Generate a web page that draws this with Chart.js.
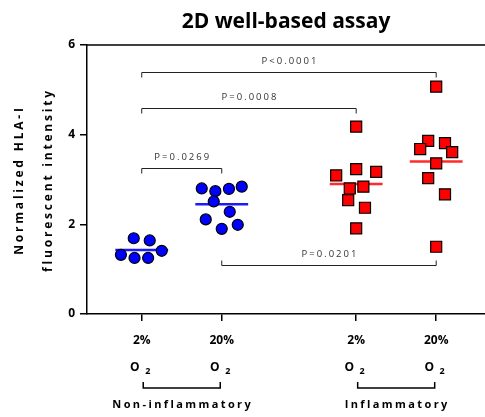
<!DOCTYPE html>
<html>
<head>
<meta charset="utf-8">
<script src="https://cdn.jsdelivr.net/npm/chart.js@4.4.1/dist/chart.umd.min.js"></script>
<style>
  html, body { margin: 0; padding: 0; background: #fff; }
  canvas { display: block; }
</style>
</head>
<body>
<canvas id="chart" width="485" height="417"></canvas>
<script>
// x positions of the four groups and their labels
const categoryPos = [1, 2, 3.68, 4.68];
const tickLabels = ['2%', '20%', '2%', '20%'];
const groupNames = ['Non-inflammatory', 'Inflammatory'];

// Non-inflammatory 2% O2
const nonInf2X = [0.9, 1.1, 0.74, 0.91, 1.08, 1.25];
const nonInf2Y = [1.69, 1.64, 1.32, 1.25, 1.25, 1.41];
// Non-inflammatory 20% O2
const nonInf20X = [1.75, 1.92, 2.09, 2.25, 1.9, 2.1, 1.8, 2.2, 2.0];
const nonInf20Y = [2.80, 2.74, 2.79, 2.84, 2.51, 2.28, 2.11, 1.99, 1.90];
// Inflammatory 2% O2
const inf2X = [3.68, 3.68, 3.43, 3.93, 3.60, 3.77, 3.58, 3.79, 3.68];
const inf2Y = [4.18, 3.23, 3.09, 3.17, 2.80, 2.84, 2.54, 2.37, 1.91];
// Inflammatory 20% O2
const inf20X = [4.68, 4.58, 4.48, 4.79, 4.88, 4.68, 4.58, 4.79, 4.68];
const inf20Y = [5.07, 3.86, 3.68, 3.81, 3.61, 3.36, 3.03, 2.67, 1.50];

const means = [1.43, 2.45, 2.90, 3.40];

// significance brackets (group index from/to, height, text)
const bracketFrom = [0, 0, 0, 1];
const bracketTo = [3, 2, 1, 3];
const bracketY = [5.40, 4.59, 3.26, 1.09];
const bracketText = ['P<0.0001', 'P=0.0008', 'P=0.0269', 'P=0.0201'];

const pts = (xs, ys) => xs.map((x, i) => ({ x: x, y: ys[i] }));
const meanLine = (i) => [{ x: categoryPos[i] - 0.33, y: means[i] }, { x: categoryPos[i] + 0.33, y: means[i] }];

const blue = '#0000ff';
const red = '#ff0000';

const circleStyle = { backgroundColor: blue, borderColor: '#000', borderWidth: 1.2, pointRadius: 5.5, pointStyle: 'circle', order: 1 };
const squareStyle = { backgroundColor: red, borderColor: '#000', borderWidth: 1.2, pointRadius: 7.8, pointStyle: 'rect', order: 1 };
const lineStyle = (c) => ({ showLine: true, borderColor: c, borderWidth: 2.5, pointRadius: 0, order: 2 });

const extras = {
  id: 'extras',
  afterDraw(chart) {
    const ctx = chart.ctx;
    const x = chart.scales.x;
    const y = chart.scales.y;
    const area = chart.chartArea;
    ctx.save();

    // title, centred over the plot area
    ctx.fillStyle = '#000';
    ctx.textAlign = 'center';
    ctx.textBaseline = 'middle';
    ctx.font = 'bold 21px "Open Sans"';
    ctx.fillText('2D well-based assay', (area.left + area.right) / 2, 22);

    // top frame line at y = 6
    ctx.strokeStyle = '#000';
    ctx.lineWidth = 1.5;
    ctx.beginPath();
    ctx.moveTo(area.left, y.getPixelForValue(6));
    ctx.lineTo(area.right, y.getPixelForValue(6));
    ctx.stroke();

    // significance brackets
    ctx.lineWidth = 1;
    ctx.strokeStyle = '#222';
    ctx.fillStyle = '#333';
    ctx.font = '9.5px "Open Sans"';
    ctx.letterSpacing = '2px';
    for (let i = 0; i < bracketY.length; i++) {
      const x1 = x.getPixelForValue(categoryPos[bracketFrom[i]]);
      const x2 = x.getPixelForValue(categoryPos[bracketTo[i]]);
      const yy = Math.round(y.getPixelForValue(bracketY[i])) + 0.5;
      const up = i === 3;
      const tick = up ? -5 : 5;
      ctx.beginPath();
      ctx.moveTo(x1, yy + tick);
      ctx.lineTo(x1, yy);
      ctx.lineTo(x2, yy);
      ctx.lineTo(x2, yy + tick);
      ctx.stroke();
      ctx.fillText(bracketText[i], (x1 + x2) / 2 + 1, yy - 11.5);
    }

    // O2 labels under the ticks
    ctx.letterSpacing = '0px';
    ctx.fillStyle = '#000';
    categoryPos.forEach((v) => {
      const px = x.getPixelForValue(v);
      ctx.font = 'bold 12px "Open Sans"';
      ctx.fillText('O', px - 7, area.bottom + 54);
      ctx.font = 'bold 9px "Open Sans"';
      ctx.fillText('2', px + 6, area.bottom + 57);
    });

    // group brackets and names
    ctx.strokeStyle = '#000';
    ctx.lineWidth = 1.5;
    ctx.font = 'bold 11px "Open Sans"';
    ctx.letterSpacing = '2.4px';
    [[0, 1], [2, 3]].forEach((g, i) => {
      const x1 = x.getPixelForValue(categoryPos[g[0]]) + 1.5;
      const x2 = x.getPixelForValue(categoryPos[g[1]]) - 1.5;
      const yy = area.bottom + 74;
      ctx.beginPath();
      ctx.moveTo(x1, yy - 6);
      ctx.lineTo(x1, yy);
      ctx.lineTo(x2, yy);
      ctx.lineTo(x2, yy - 6);
      ctx.stroke();
      ctx.fillText(groupNames[i], (x1 + x2) / 2 + 1, yy + 17);
    });

    // y axis title, two lines, rotated
    ctx.font = 'bold 12px "Open Sans"';
    ctx.letterSpacing = '2.8px';
    ctx.translate(0, 180);
    ctx.rotate(-Math.PI / 2);
    ctx.fillText('Normalized HLA-I', 0, 20);
    ctx.fillText('fluorescent intensity', 0, 49);
    ctx.restore();
  }
};

new Chart(document.getElementById('chart'), {
  type: 'scatter',
  data: {
    datasets: [
      Object.assign({ data: meanLine(0) }, lineStyle('#1a1aff')),
      Object.assign({ data: meanLine(1) }, lineStyle('#1a1aff')),
      Object.assign({ data: meanLine(2) }, lineStyle('#ff2a2a')),
      Object.assign({ data: meanLine(3) }, lineStyle('#ff2a2a')),
      Object.assign({ data: pts(nonInf2X, nonInf2Y) }, circleStyle),
      Object.assign({ data: pts(nonInf20X, nonInf20Y) }, circleStyle),
      Object.assign({ data: pts(inf2X, inf2Y) }, squareStyle),
      Object.assign({ data: pts(inf20X, inf20Y) }, squareStyle)
    ]
  },
  options: {
    responsive: false,
    animation: false,
    layout: { autoPadding: false, padding: { top: 45, right: 0, left: 0, bottom: 0 } },
    plugins: {
      legend: { display: false },
      tooltip: { enabled: false },
      title: { display: false }
    },
    scales: {
      x: {
        type: 'linear',
        min: 0.316,
        max: 5.29,
        afterBuildTicks: (scale) => { scale.ticks = categoryPos.map((v) => ({ value: v })); },
        afterFit: (scale) => {
          scale.height = 103;
          scale.paddingLeft = 0;
          scale.paddingRight = 0;
        },
        ticks: {
          callback: (value, index) => tickLabels[index],
          color: '#000',
          padding: 12,
          maxRotation: 0,
          font: { family: 'Open Sans', weight: 'bold', size: 12 }
        },
        grid: { drawOnChartArea: false, tickLength: 7, color: '#000', lineWidth: 1.5 },
        border: { color: '#000', width: 1.5 }
      },
      y: {
        min: 0,
        max: 6,
        afterFit: (scale) => { scale.width = 87; },
        ticks: {
          stepSize: 2,
          color: '#000',
          padding: 5,
          font: { family: 'Open Sans', weight: 'bold', size: 12 }
        },
        grid: { drawOnChartArea: false, tickLength: 7, color: '#000', lineWidth: 1.5 },
        border: { color: '#000', width: 1.5 }
      }
    }
  },
  plugins: [extras]
});
</script>
</body>
</html>
